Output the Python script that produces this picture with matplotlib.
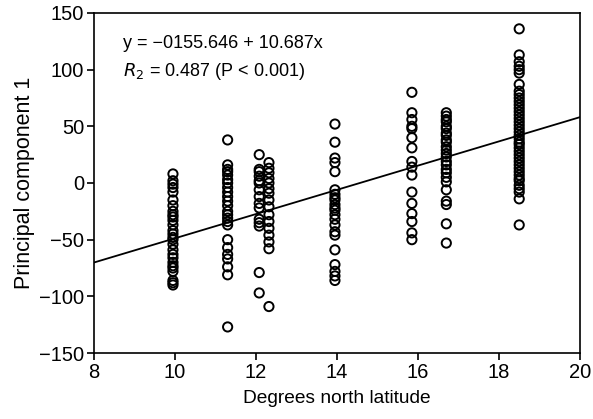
import numpy as np
import matplotlib.pyplot as plt

plt.rcParams['font.family'] = ['Liberation Sans', 'DejaVu Sans']

# latitude of each sampling site and the PC1 scores
pc_10 = [8, 2, -1, -4, -8, -15, -20, -25, -28, -30, -33, -37, -42, -45, -48,
         -50, -54, -59, -63, -66, -70, -73, -75, -78, -86, -88, -90]
lat_10 = [9.95] * len(pc_10)

pc_113 = [38, 16, 12, 10, 7, 3, 0, -4, -8, -12, -16, -20, -25, -28, -31, -34,
          -37, -50, -57, -63, -67, -74, -81, -127]
lat_113 = [11.3] * len(pc_113)

pc_121 = [25, 12, 10, 6, 2, 0, -6, -12, -18, -22, -32, -35, -38, -79, -97]
lat_121 = [12.08] * len(pc_121)

pc_123 = [18, 13, 9, 4, 0, -5, -9, -15, -21, -28, -34, -40, -46, -52, -58, -109]
lat_123 = [12.32] * len(pc_123)

pc_14 = [52, 36, 22, 18, 10, -6, -10, -13, -15, -19, -22, -24, -28, -32, -37,
         -43, -46, -59, -72, -78, -82, -86]
lat_14 = [13.95] * len(pc_14)

pc_158 = [80, 62, 56, 50, 48, 40, 31, 19, 14, 7, -8, -18, -27, -34, -44, -50]
lat_158 = [15.85] * len(pc_158)

pc_167 = [62, 59, 56, 54, 50, 48, 44, 42, 38, 36, 32, 29, 26, 23, 19, 16, 12,
          9, 5, 1, -6, -16, -19, -36, -53]
lat_167 = [16.7] * len(pc_167)

pc_185 = [136, 113, 107, 103, 100, 97, 87, 81, 78, 75, 72, 69, 66, 63, 60, 57,
          54, 51, 48, 45, 42, 39, 36, 34, 31, 28, 25, 22, 19, 16, 13, 10, 7, 4,
          2, -2, -5, -8, -14, -37]
lat_185 = [18.5] * len(pc_185)

lat = lat_10 + lat_113 + lat_121 + lat_123 + lat_14 + lat_158 + lat_167 + lat_185
pc1 = pc_10 + pc_113 + pc_121 + pc_123 + pc_14 + pc_158 + pc_167 + pc_185

intercept = -155.646
slope = 10.687

fig = plt.figure(figsize=(5.93, 4.19), dpi=100)
ax = fig.add_axes([0.1585, 0.1575, 0.8195, 0.8115])

ax.scatter(lat, pc1, s=44, facecolors='none', edgecolors='black', linewidths=1.4, zorder=3)

xl = np.array([8, 20])
ax.plot(xl, intercept + slope * xl, color='black', linewidth=1.3, zorder=2)

ax.set_xlim(8, 20)
ax.set_ylim(-150, 150)
ax.set_xticks(range(8, 21, 2))
ax.set_yticks(range(-150, 151, 50))
ax.set_yticklabels(['\u2212150', '\u2212100', '\u221250', '0', '50', '100', '150'])
ax.tick_params(direction='out', length=5, width=1.2, labelsize=14.5, pad=2)
for sp in ax.spines.values():
    sp.set_linewidth(1.2)

ax.set_xlabel('Degrees north latitude', fontsize=13.8, labelpad=6)
ax.set_ylabel('Principal component 1', fontsize=15.5, labelpad=3)

ax.text(8.72, 123, 'y = \u22120155.646 + 10.687x', fontsize=13, va='center')
ax.text(8.72, 98, '$R_2$ = 0.487 (P < 0.001)', fontsize=13, va='center')

fig.savefig('out.png', dpi=100)
